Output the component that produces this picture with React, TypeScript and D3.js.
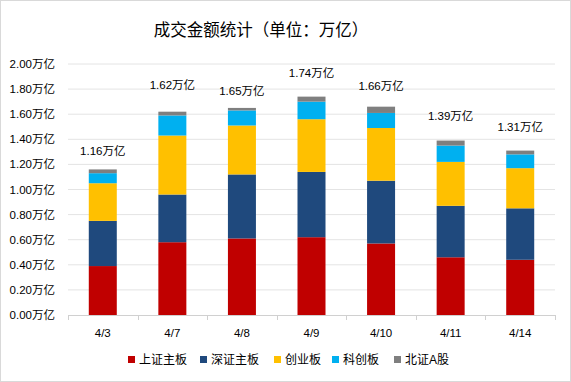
import React from "react";
import * as d3 from "d3";

const categories = ["4/3", "4/7", "4/8", "4/9", "4/10", "4/11", "4/14"];
const seriesNames = ["上证主板", "深证主板", "创业板", "科创板", "北证A股"];
const shMain = [0.39, 0.58, 0.61, 0.62, 0.57, 0.46, 0.44];
const szMain = [0.36, 0.38, 0.51, 0.52, 0.50, 0.41, 0.41];
const chinext = [0.30, 0.47, 0.39, 0.42, 0.42, 0.35, 0.32];
const star = [0.08, 0.16, 0.12, 0.14, 0.12, 0.13, 0.11];
const bse = [0.03, 0.03, 0.02, 0.04, 0.05, 0.04, 0.03];
const totalLabels = ["1.16万亿", "1.62万亿", "1.65万亿", "1.74万亿", "1.66万亿", "1.39万亿", "1.31万亿"];
const yTicks = [0, 0.2, 0.4, 0.6, 0.8, 1.0, 1.2, 1.4, 1.6, 1.8, 2.0];

// layout-only: how far each total label sits above its bar (px)
const labelLift = [18, 27, 17, 24, 21, 25, 24];

const colors = ["#C00000", "#1F497D", "#FFC000", "#00B0F0", "#7F7F7F"];

const W = 571;
const H = 382;
const font = "'Liberation Sans', 'Noto Sans CJK SC', sans-serif";

export default function App() {
  const x = d3.scaleBand<string>().domain(categories).range([68, 555]).paddingInner(0).paddingOuter(0);
  const y = d3.scaleLinear().domain([0, 2]).range([315, 64]);
  const seriesArrays = [shMain, szMain, chinext, star, bse];
  const rows = categories.map((c, i) => {
    const r: any = { cat: c };
    seriesNames.forEach((s, k) => (r[s] = seriesArrays[k][i]));
    return r;
  });
  const stacked = d3.stack<any>().keys(seriesNames)(rows);
  const barW = 28;
  const bw = x.bandwidth();

  const legendX = [128, 200, 274, 332, 394];

  return (
    <svg width={W} height={H} style={{ position: "absolute", left: 0, top: 0 }}>
      <rect x={0.5} y={0.5} width={W - 1} height={H - 1} fill="#fff" stroke="#d9d9d9" />
      <text x={261} y={36} textAnchor="middle" fontSize={16.5} fontFamily={font} fill="#000">
        成交金额统计（单位：万亿）
      </text>
      {yTicks.map((t) => (
        <g key={t}>
          {t > 0 && <line x1={68} x2={555} y1={y(t)} y2={y(t)} stroke="#e4e4e4" strokeWidth={1} />}
          <text x={55} y={y(t) + 4} textAnchor="end" fontSize={11.5} fontFamily={font} fill="#000">
            {t.toFixed(2) + "万亿"}
          </text>
        </g>
      ))}
      {stacked.map((layer, k) => (
        <g key={layer.key} fill={colors[k]}>
          {layer.map((d, i) => (
            <rect
              key={i}
              x={(x(categories[i]) as number) + bw / 2 - barW / 2}
              y={y(d[1])}
              width={barW}
              height={y(d[0]) - y(d[1])}
            />
          ))}
        </g>
      ))}
      <line x1={68} x2={555} y1={315.5} y2={315.5} stroke="#d0d0d0" />
      {categories.map((c, i) => (
        <line key={"t" + i} x1={Math.round(x(c) as number) + 0.5} x2={Math.round(x(c) as number) + 0.5} y1={315} y2={320} stroke="#d0d0d0" />
      ))}
      <line x1={555.5} x2={555.5} y1={315} y2={320} stroke="#d0d0d0" />
      {categories.map((c) => (
        <text key={"c" + c} x={(x(c) as number) + bw / 2} y={337} textAnchor="middle" fontSize={11.5} fontFamily={font} fill="#000">
          {c}
        </text>
      ))}
      {totalLabels.map((lab, i) => {
        const top = stacked[stacked.length - 1][i][1];
        return (
          <text key={"l" + i} x={(x(categories[i]) as number) + bw / 2} y={y(top) - labelLift[i] + 4} textAnchor="middle" fontSize={11.5} fontFamily={font} fill="#000">
            {lab}
          </text>
        );
      })}
      {seriesNames.map((s, k) => (
        <g key={"lg" + s}>
          <rect x={legendX[k]} y={356} width={7} height={7} fill={colors[k]} />
          <text x={legendX[k] + 11} y={364} fontSize={12} fontFamily={font} fill="#000">
            {s}
          </text>
        </g>
      ))}
    </svg>
  );
}
